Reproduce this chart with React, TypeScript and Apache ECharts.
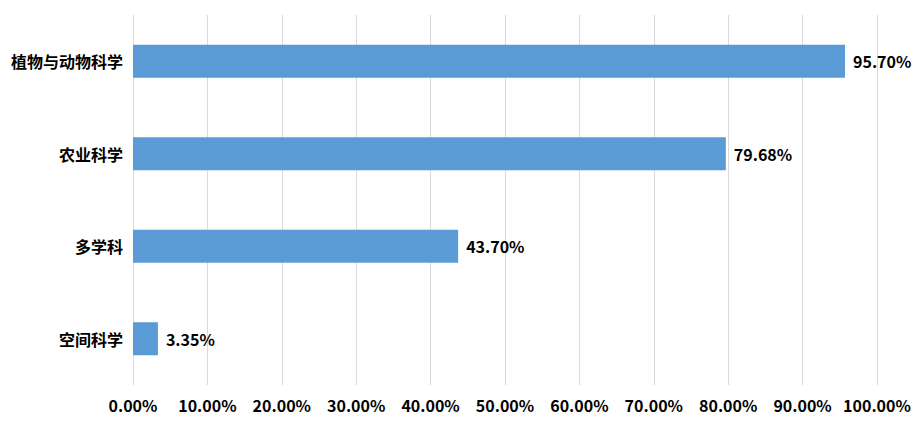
import React, { useEffect, useRef } from "react";
import * as echarts from "echarts";

const categories = ["空间科学", "多学科", "农业科学", "植物与动物科学"];
const values = [3.35, 43.7, 79.68, 95.7];

const FONT = "'Noto Sans CJK SC', 'Microsoft YaHei', sans-serif";

export default function App() {
  const ref = useRef<HTMLDivElement>(null);
  useEffect(() => {
    document.body.style.margin = "0";
    if (!ref.current) return;
    const chart = echarts.init(ref.current, undefined, { renderer: "svg" });
    chart.setOption({
      animation: false,
      grid: { left: 133, right: 42, top: 15, bottom: 43, containLabel: false },
      xAxis: {
        type: "value",
        min: 0,
        max: 100,
        interval: 10,
        axisLine: { show: false },
        axisTick: { show: false },
        splitLine: { show: true, lineStyle: { color: "#d9d9d9", width: 1 } },
        axisLabel: {
          margin: 12,
          color: "#000",
          fontWeight: "bold",
          fontSize: 16,
          fontFamily: FONT,
          formatter: (v: number) => v.toFixed(2) + "%",
        },
      },
      yAxis: {
        type: "category",
        data: categories,
        axisLine: { show: false },
        axisTick: { show: false },
        splitLine: { show: false },
        axisLabel: {
          margin: 10,
          color: "#000",
          fontWeight: "bold",
          fontSize: 16,
          fontFamily: FONT,
        },
      },
      series: [
        {
          type: "bar",
          data: values,
          barWidth: 33,
          itemStyle: { color: "#5B9BD5" },
          label: {
            show: true,
            position: "right",
            distance: 8,
            color: "#000",
            fontWeight: "bold",
            fontSize: 16,
            fontFamily: FONT,
            formatter: (p: any) => p.value.toFixed(2) + "%",
          },
        },
      ],
    });
    return () => chart.dispose();
  }, []);
  return <div ref={ref} style={{ width: 919, height: 428 }} />;
}
